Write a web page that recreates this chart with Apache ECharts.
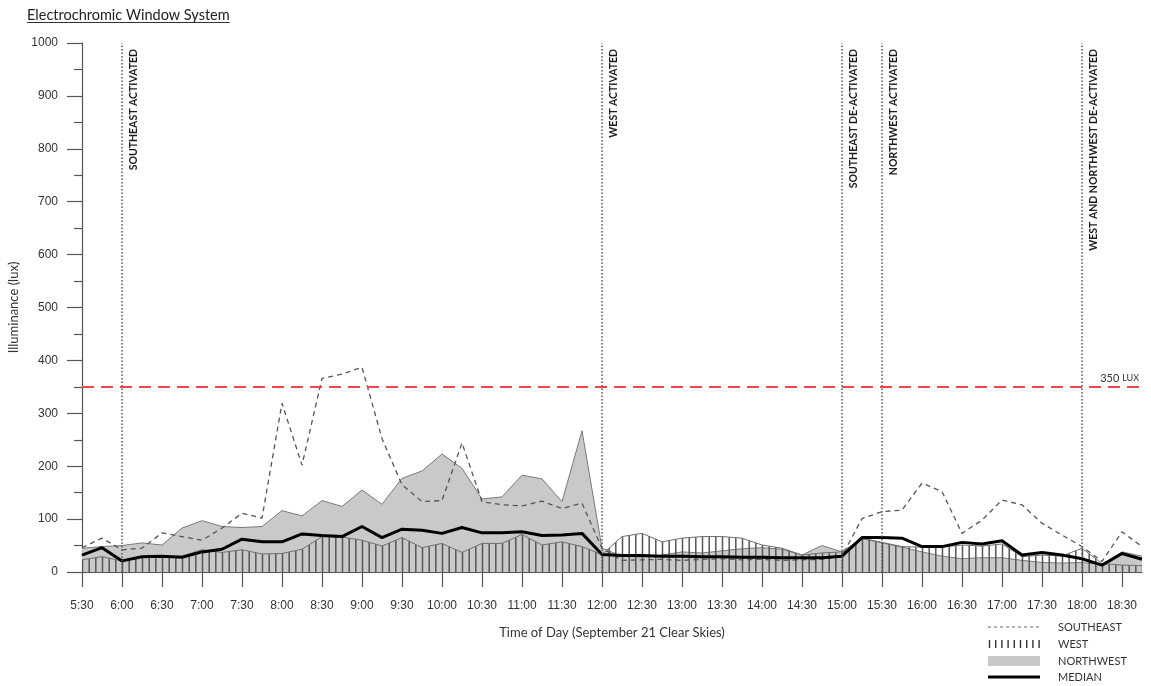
<!DOCTYPE html>
<html>
<head>
<meta charset="utf-8">
<script src="https://cdn.jsdelivr.net/npm/echarts@6/dist/echarts.min.js"></script>
<style>
  html, body { margin: 0; padding: 0; background: #fff; }
  #chart { width: 1151px; height: 686px; }
</style>
</head>
<body>
<div id="chart"></div>
<script>
// Sample times, every 15 minutes
const times = [
  '5:30','5:45','6:00','6:15','6:30','6:45','7:00','7:15','7:30','7:45',
  '8:00','8:15','8:30','8:45','9:00','9:15','9:30','9:45','10:00','10:15',
  '10:30','10:45','11:00','11:15','11:30','11:45','12:00','12:15','12:30','12:45',
  '13:00','13:15','13:30','13:45','14:00','14:15','14:30','14:45','15:00','15:15',
  '15:30','15:45','16:00','16:15','16:30','16:45','17:00','17:15','17:30','17:45',
  '18:00','18:15','18:30','18:45'
];

// Illuminance (lux) per facade
const southeast = [
  46, 64, 42, 45, 74, 67, 60, 83, 111, 102,
  319, 202, 366, 374, 387, 252, 165, 133, 135, 244,
  133, 127, 125, 134, 120, 130, 45, 22, 23, 24,
  22, 24, 25, 23, 24, 22, 23, 24, 30, 101,
  114, 117, 168, 152, 73, 98, 136, 127, 92, 70,
  48, 20, 76, 48
];
const west = [
  23, 29, 21, 28, 29, 30, 42, 37, 42, 34,
  35, 43, 67, 66, 60, 49, 65, 46, 54, 37,
  54, 54, 71, 51, 57, 48, 33, 67, 73, 57,
  64, 67, 67, 64, 51, 45, 32, 36, 38, 64,
  56, 48, 47, 47, 51, 49, 53, 29, 32, 30,
  45, 16, 13, 12
];
const northwest = [
  45, 48, 50, 55, 51, 83, 97, 86, 84, 86,
  116, 106, 135, 124, 155, 128, 177, 191, 223, 196,
  138, 142, 183, 176, 133, 267, 45, 30, 28, 32,
  38, 36, 40, 44, 46, 43, 32, 50, 38, 63,
  55, 47, 38, 30, 25, 27, 27, 22, 18, 17,
  18, 14, 38, 30
];
const median = [
  32, 46, 21, 29, 30, 28, 38, 43, 62, 57,
  57, 72, 69, 67, 86, 65, 81, 79, 73, 84,
  74, 74, 76, 69, 70, 73, 33, 31, 31, 30,
  30, 29, 29, 28, 28, 27, 27, 27, 30, 65,
  65, 64, 48, 48, 56, 53, 59, 32, 37, 32,
  25, 13, 35, 24
];

// Window control events
const eventTimes = ['6:00', '12:00', '15:00', '15:30', '18:00'];
const eventLabels = [
  'SOUTHEAST ACTIVATED',
  'WEST ACTIVATED',
  'SOUTHEAST DE-ACTIVATED',
  'NORTHWEST ACTIVATED',
  'WEST AND NORTHWEST DE-ACTIVATED'
];
const thresholdLux = 350;

const legendNames = ['SOUTHEAST', 'WEST', 'NORTHWEST', 'MEDIAN'];
const titleText = 'Electrochromic Window System';

const SANS = '"Liberation Sans", Arial, sans-serif';
const HUM = 'Lato, "Open Sans", sans-serif';

// Vertical hatch used for the west facade fill
function makeHatch() {
  const c = document.createElement('canvas');
  c.width = 20; c.height = 20;
  const ctx = c.getContext('2d');
  ctx.strokeStyle = '#555';
  ctx.lineWidth = 1.5;
  [2.5, 9.2, 15.8].forEach(x => {
    ctx.beginPath(); ctx.moveTo(x, 0); ctx.lineTo(x, 20); ctx.stroke();
  });
  return c;
}
const hatch = makeHatch();

function textWidth(str, font) {
  const ctx = document.createElement('canvas').getContext('2d');
  ctx.font = font;
  return ctx.measureText(str).width;
}

const chart = echarts.init(document.getElementById('chart'), null, { renderer: 'canvas' });

// Legend graphics (bottom right)
const lgX = 988, lgW = 52, lgTextX = 1058;
const lgY = [627, 644, 661, 677];
const legendGraphics = [];
legendGraphics.push({
  type: 'line', shape: { x1: lgX, y1: lgY[0], x2: lgX + lgW, y2: lgY[0] },
  style: { stroke: '#666', lineWidth: 1, lineDash: [3, 3] }
});
for (let k = 0; k < 9; k++) {
  const x = lgX + 1.5 + k * 6.2;
  legendGraphics.push({
    type: 'line', shape: { x1: x, y1: lgY[1] - 4, x2: x, y2: lgY[1] + 4 },
    style: { stroke: '#333', lineWidth: 1.4 }
  });
}
legendGraphics.push({
  type: 'rect', shape: { x: lgX, y: lgY[2] - 5, width: lgW, height: 10 },
  style: { fill: '#c8c8c8' }
});
legendGraphics.push({
  type: 'line', shape: { x1: lgX, y1: lgY[3], x2: lgX + lgW, y2: lgY[3] },
  style: { stroke: '#000', lineWidth: 3 }
});
legendNames.forEach((n, k) => {
  legendGraphics.push({
    type: 'text', x: lgTextX, y: lgY[k],
    style: { text: n, fill: '#333', font: '11px ' + HUM, textVerticalAlign: 'middle' }
  });
});

const titleFont = '14.5px ' + HUM;
const titleW = textWidth(titleText, titleFont);

const option = {
  animation: false,
  backgroundColor: '#fff',
  grid: { left: 82, right: 9, top: 43, bottom: 114, outerBoundsMode: 'none', containLabel: false },
  xAxis: {
    type: 'category',
    data: times,
    boundaryGap: false,
    name: 'Time of Day (September 21 Clear Skies)',
    nameLocation: 'middle',
    nameGap: 54,
    nameTextStyle: { fontFamily: HUM, fontSize: 13, color: '#333' },
    axisLine: { lineStyle: { color: '#555', width: 1.2 } },
    axisTick: { interval: 1, length: 15, lineStyle: { color: '#555', width: 1.2 } },
    axisLabel: { interval: 1, margin: 28, fontFamily: SANS, fontSize: 12, color: '#333' },
    splitLine: { show: false }
  },
  yAxis: {
    type: 'value',
    min: 0, max: 1000, interval: 100,
    name: 'Illuminance (lux)',
    nameLocation: 'middle',
    nameGap: 56,
    nameTextStyle: { fontFamily: HUM, fontSize: 13, color: '#333' },
    axisLine: { show: true, lineStyle: { color: '#555', width: 1.2 } },
    axisTick: { show: true, length: 15, lineStyle: { color: '#555', width: 1.2 } },
    minorTick: { show: true, splitNumber: 2, length: 8, lineStyle: { color: '#555', width: 1.2 } },
    axisLabel: {
      margin: 24, fontFamily: SANS, fontSize: 12, color: '#333',
      formatter: v => String(v)
    },
    splitLine: { show: false }
  },
  graphic: [
    {
      type: 'text', x: 27, y: 15,
      style: { text: titleText, fill: '#222', font: titleFont, textVerticalAlign: 'middle' }
    },
    {
      type: 'line', shape: { x1: 27, y1: 22.5, x2: 27 + titleW, y2: 22.5 },
      style: { stroke: '#333', lineWidth: 1 }
    },
    ...legendGraphics
  ],
  series: [
    {
      name: 'NORTHWEST', type: 'line', data: northwest, symbol: 'none', z: 1,
      lineStyle: { color: '#7a7a7a', width: 1 },
      areaStyle: { color: '#c9c9c9', opacity: 1 }
    },
    {
      name: 'WEST', type: 'line', data: west, symbol: 'none', z: 2,
      lineStyle: { color: '#6f6f6f', width: 1 },
      areaStyle: { color: { image: hatch, repeat: 'repeat' }, opacity: 1 }
    },
    {
      name: 'SOUTHEAST', type: 'line', data: southeast, symbol: 'none', z: 3,
      lineStyle: { color: '#555', width: 1.3, type: [5, 4] },
      markLine: {
        silent: true,
        symbol: ['none', 'none'],
        data: [
          ...eventTimes.map((t, k) => ({
            xAxis: t,
            lineStyle: { color: '#555', width: 1.5, type: [1.5, 2] },
            label: {
              show: true, position: 'insideEndBottom', distance: 6,
              formatter: eventLabels[k],
              fontFamily: HUM, fontWeight: 'bold', fontSize: 10.5, color: '#1a1a1a'
            }
          })),
          {
            yAxis: thresholdLux,
            lineStyle: { color: '#f04848', width: 2, type: [12, 7] },
            label: {
              show: true, position: 'insideEndTop', distance: 3,
              formatter: '{a|' + thresholdLux + ' }{b|LUX}',
              rich: {
                a: { fontFamily: HUM, fontSize: 11, color: '#333' },
                b: { fontFamily: HUM, fontSize: 9, color: '#333' }
              }
            }
          }
        ]
      }
    },
    {
      name: 'MEDIAN', type: 'line', data: median, symbol: 'none', z: 4,
      lineStyle: { color: '#000', width: 3 }
    }
  ]
};

chart.setOption(option);
</script>
</body>
</html>
